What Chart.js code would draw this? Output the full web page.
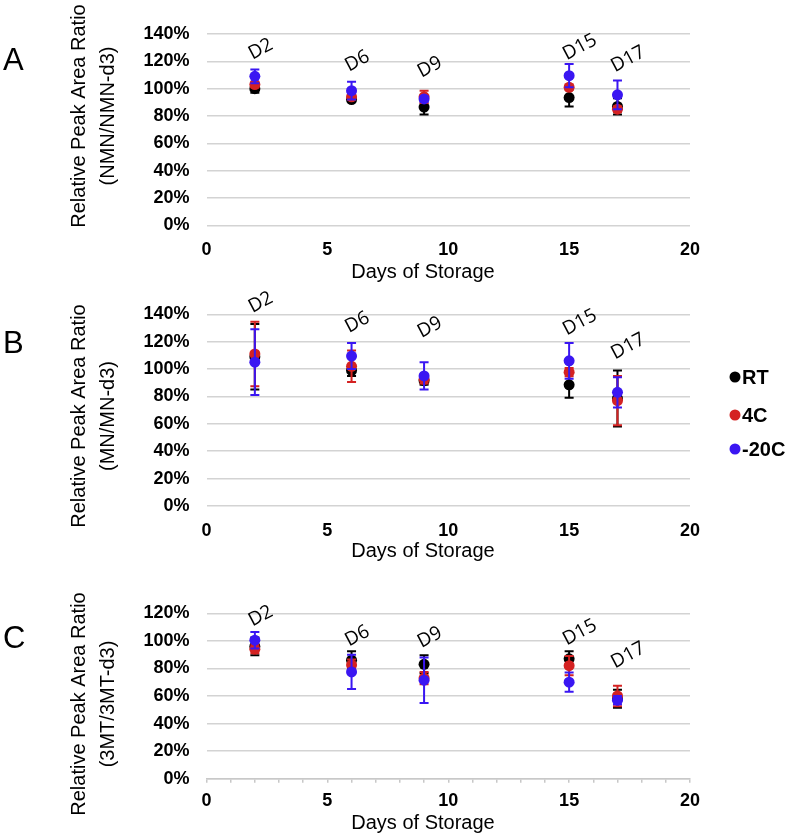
<!DOCTYPE html>
<html>
<head>
<meta charset="utf-8">
<script src="https://cdn.jsdelivr.net/npm/chart.js@4.4.1/dist/chart.umd.min.js"></script>
<style>
    body { margin: 0; background: #fff; }
    #wrap { position: relative; width: 789px; height: 836px; }
    canvas { position: absolute; left: 0; }
</style>
</head>
<body>
<div id="wrap">
    <canvas id="chartA" width="789" height="285" style="top:0px"></canvas>
    <canvas id="chartB" width="789" height="285" style="top:285px"></canvas>
    <canvas id="chartC" width="789" height="266" style="top:570px"></canvas>
</div>
<script>
// shared
const days = [2, 6, 9, 15, 17];
const dayLabels = ["D2", "D6", "D9", "D15", "D17"];
const seriesNames = ["RT", "4C", "-20C"];
const seriesColors = ["#000000", "#d42222", "#3a16f2"];

// Panel A - NMN/NMN-d3 (%)
const rtA = [100, 92, 86.5, 93.5, 87];
const rtErrA = [3, 1.5, 5.5, 6.5, 6];
const fourA = [103, 94, 94, 101, 85];
const fourErrA = [2, 2, 4.5, 2, 2];
const m20A = [109, 98.5, 92.5, 109.5, 95.5];
const m20ErrA = [5, 6.5, 2, 8.5, 10.5];
const tagA = [124.7, 115.9, 111.5, 124.3, 115.5];

// Panel B - MN/MN-d3 (%)
const rtB = [109, 99, 91.5, 88.5, 78.5];
const rtErrB = [24, 4, 3, 9.5, 20.5];
const fourB = [111, 102, 92.5, 97.7, 77];
const fourErrB = [23.5, 11.5, 3, 3, 18];
const m20B = [105, 109.5, 95, 106, 83];
const m20ErrB = [24, 9.5, 10, 13, 11];
const tagB = [144.5, 129.9, 126.2, 128, 110.5];

// Panel C - 3MT/3MT-d3 (%)
const rtC = [96, 86, 83, 87, 58];
const rtErrC = [6.5, 6.5, 6.5, 5.5, 6.5];
const fourC = [94, 82.5, 73, 82, 60];
const fourErrC = [3, 4, 4.5, 7, 7.5];
const m20C = [100.5, 77.5, 71.5, 70, 57];
const m20ErrC = [6, 12.5, 16.5, 7, 3];
const tagC = [113.8, 99.3, 98.3, 100.1, 83.5];

const FONT = "'Liberation Sans', Arial, sans-serif";

// error bars drawn just under each dataset's markers
const errorBars = {
    id: "errorBars",
    beforeDatasetDraw(chart, args) {
        const ds = chart.data.datasets[args.index];
        if (!ds.errors) return;
        const y = chart.scales.y;
        const ctx = chart.ctx;
        ctx.save();
        ctx.strokeStyle = ds.backgroundColor;
        ctx.lineWidth = 2;
        args.meta.data.forEach((pt, i) => {
            const v = ds.data[i].y;
            const e = ds.errors[i];
            const top = y.getPixelForValue(v + e);
            const bot = y.getPixelForValue(v - e);
            ctx.beginPath();
            ctx.moveTo(pt.x, top);
            ctx.lineTo(pt.x, bot);
            ctx.moveTo(pt.x - 4.5, top);
            ctx.lineTo(pt.x + 4.5, top);
            ctx.moveTo(pt.x - 4.5, bot);
            ctx.lineTo(pt.x + 4.5, bot);
            ctx.stroke();
        });
        ctx.restore();
    }
};

// rotated "D2", "D6"... tags above each group
const dayTags = {
    id: "dayTags",
    afterDatasetsDraw(chart, args, o) {
        const { ctx, scales: { x, y } } = chart;
        ctx.save();
        ctx.font = "19px 'Open Sans', sans-serif";
        ctx.fillStyle = "#000";
        ctx.textAlign = "left";
        ctx.textBaseline = "middle";
        dayLabels.forEach((name, i) => {
            ctx.save();
            ctx.translate(x.getPixelForValue(days[i]) - 5, y.getPixelForValue(o.heights[i]));
            ctx.rotate(-28 * Math.PI / 180);
            ctx.fillText(name, 0, 0);
            ctx.restore();
        });
        ctx.restore();
    }
};

// panel letter, axis titles, legend
const panelText = {
    id: "panelText",
    afterDraw(chart, args, o) {
        const ctx = chart.ctx;
        ctx.save();
        ctx.fillStyle = "#000";
        ctx.textBaseline = "middle";

        ctx.font = "31px " + FONT;
        ctx.textAlign = "left";
        ctx.fillText(o.letter, 3, o.letterY);

        ctx.font = "20px " + FONT;
        ctx.textAlign = "center";
        o.yTitle.forEach((line, i) => {
            ctx.save();
            ctx.translate(79 + i * 29, o.yTitleY);
            ctx.rotate(-Math.PI / 2);
            ctx.fillText(line, 0, 0);
            ctx.restore();
        });
        ctx.fillText("Days of Storage", 423, o.xTitleY);

        if (o.legend) {
            const rows = [92, 130, 164];
            ctx.font = "bold 20px " + FONT;
            ctx.textAlign = "left";
            seriesNames.forEach((name, i) => {
                ctx.fillStyle = seriesColors[i];
                ctx.beginPath();
                ctx.arc(735, rows[i], 5.5, 0, Math.PI * 2);
                ctx.fill();
                ctx.fillStyle = "#000";
                ctx.fillText(name, 742, rows[i] + 1);
            });
        }
        ctx.restore();
    }
};

function makeDataset(i, vals, errs) {
    return {
        label: seriesNames[i],
        data: days.map((d, k) => ({ x: d, y: vals[k] })),
        errors: errs,
        backgroundColor: seriesColors[i],
        borderWidth: 0,
        pointRadius: 5.5,
        order: 3 - i
    };
}

function buildPanel(id, p) {
    const ctx = document.getElementById(id).getContext("2d");
    return new Chart(ctx, {
        type: "scatter",
        data: {
            datasets: [
                makeDataset(0, p.rt, p.rtErr),
                makeDataset(1, p.four, p.fourErr),
                makeDataset(2, p.m20, p.m20Err)
            ]
        },
        options: {
            responsive: false,
            animation: false,
            layout: { padding: { top: p.top, right: 99, left: 0, bottom: 0 } },
            plugins: {
                legend: { display: false },
                tooltip: { enabled: false },
                dayTags: { heights: p.tags },
                panelText: p.text
            },
            scales: {
                x: {
                    type: "linear",
                    min: 0,
                    max: 20,
                    ticks: {
                        stepSize: p.minor ? 1 : 5,
                        autoSkip: false,
                        maxRotation: 0,
                        padding: p.minor ? 8 : 14,
                        color: "#000",
                        font: { family: FONT, size: 18, weight: "bold" },
                        callback: (v) => (v % 5 === 0 ? v : "")
                    },
                    grid: {
                        display: p.minor,
                        drawOnChartArea: false,
                        drawTicks: p.minor,
                        tickLength: 4,
                        color: "#c8c8c8",
                        lineWidth: 1.5
                    },
                    border: { display: p.minor, color: "#c8c8c8", width: 1.5 },
                    afterFit: (s) => { s.height = p.xHeight; }
                },
                y: {
                    min: 0,
                    max: p.yMax,
                    ticks: {
                        stepSize: 20,
                        padding: 17,
                        color: "#000",
                        font: { family: FONT, size: 18, weight: "bold" },
                        callback: (v) => v + "%"
                    },
                    grid: { color: "#d3d3d3", lineWidth: 1.5, drawTicks: false },
                    border: { display: false },
                    afterFit: (s) => { s.width = 206.5; }
                }
            }
        },
        plugins: [errorBars, dayTags, panelText]
    });
}

buildPanel("chartA", {
    rt: rtA, rtErr: rtErrA, four: fourA, fourErr: fourErrA, m20: m20A, m20Err: m20ErrA,
    tags: tagA, yMax: 140, top: 34, xHeight: 59.7, minor: false,
    text: { letter: "A", letterY: 61, yTitle: ["Relative Peak Area Ratio", "(NMN/NMN-d3)"], yTitleY: 116, xTitleY: 272, legend: false }
});

buildPanel("chartB", {
    rt: rtB, rtErr: rtErrB, four: fourB, fourErr: fourErrB, m20: m20B, m20Err: m20ErrB,
    tags: tagB, yMax: 140, top: 29.3, xHeight: 64, minor: false,
    text: { letter: "B", letterY: 59, yTitle: ["Relative Peak Area Ratio", "(MN/MN-d3)"], yTitleY: 131, xTitleY: 266.5, legend: true }
});

buildPanel("chartC", {
    rt: rtC, rtErr: rtErrC, four: fourC, fourErr: fourErrC, m20: m20C, m20Err: m20ErrC,
    tags: tagC, yMax: 120, top: 43.3, xHeight: 57.3, minor: true,
    text: { letter: "C", letterY: 69, yTitle: ["Relative Peak Area Ratio", "(3MT/3MT-d3)"], yTitleY: 134, xTitleY: 253.5, legend: false }
});
</script>
</body>
</html>
